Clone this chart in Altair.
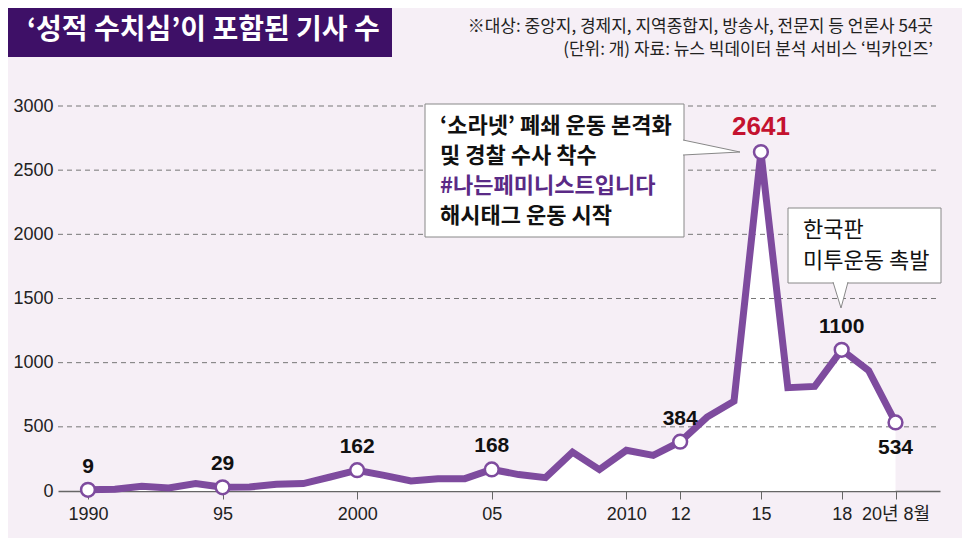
import json
import altair as alt
import pandas as pd

# ---------------- data ----------------
years = list(range(1990, 2021))
counts = [9, 13, 37, 23, 58, 29, 31, 52, 58, 109,
          162, 122, 78, 96, 96, 168, 128, 104, 303, 167,
          317, 278, 384, 576, 700, 2641, 805, 815, 1100, 939, 534]
highlight_years = [1990, 1995, 2000, 2005, 2012, 2015, 2018, 2020]
peak_year = 2015
below_year = 2020

x_tick_values = [1990, 1995, 2000, 2005, 2010, 2012, 2015, 2018, 2020]
x_tick_labels = ["1990", "95", "2000", "05", "2010", "12", "15", "18", "20년 8월"]
y_tick_values = [0, 500, 1000, 1500, 2000, 2500, 3000]
y_grid_values = [500, 1000, 1500, 2000, 2500, 3000]

title_text = "‘성적 수치심’이 포함된 기사 수"
note_lines = ["※대상: 중앙지, 경제지, 지역종합지, 방송사, 전문지 등 언론사 54곳",
              "(단위: 개) 자료: 뉴스 빅데이터 분석 서비스 ‘빅카인즈’"]
callout1_lines = ["‘소라넷’ 폐쇄 운동 본격화", "및 경찰 수사 착수",
                  "#나는페미니스트입니다", "해시태그 운동 시작"]
callout2_lines = ["한국판", "미투운동 촉발"]

# ---------------- styling ----------------
PURPLE = "#7e4b9e"
TITLE_BG = "#3e1067"
BG = "#f6eff6"
RED = "#c4122f"
HASH = "#5a2a86"
KFONT = "Noto Sans CJK KR"
NFONT = "Liberation Sans, Noto Sans CJK KR"
W, H = 882, 385

df = pd.DataFrame({"year": years, "count": counts})
df["label"] = df["count"].astype(str)
hl = df[df.year.isin(highlight_years)]
hl_above = hl[~hl.year.isin([peak_year, below_year])]
hl_peak = hl[hl.year == peak_year]
hl_below = hl[hl.year == below_year]
one = pd.DataFrame({"k": [0]})

label_expr = (json.dumps(x_tick_labels, ensure_ascii=False)
              + "[indexof(" + json.dumps(x_tick_values) + ", datum.value)]")

xscale = alt.Scale(domain=[1988.886, 2021.653], nice=False, zero=False)
yscale = alt.Scale(domain=[0, 3000], nice=False)
xaxis = alt.Axis(values=x_tick_values, labelExpr=label_expr, title=None, grid=False,
                 domainColor="#666666", domainWidth=1.5, tickColor="#666666",
                 tickSize=8, tickWidth=1, labelPadding=6, labelFontSize=18,
                 labelFont=NFONT, labelColor="#222222", labelFlush=False)
yaxis = alt.Axis(values=y_tick_values, format="d", title=None, grid=False, domain=False,
                 ticks=False, tickSize=0, labelPadding=5, labelFontSize=18,
                 labelFont=NFONT, labelColor="#222222")

X = alt.X("year:Q", scale=xscale, axis=xaxis)
Y = alt.Y("count:Q", scale=yscale, axis=yaxis)

area = alt.Chart(df).mark_area(color="white", opacity=1).encode(x=X, y=Y)

grid = alt.Chart(pd.DataFrame({"v": y_grid_values})).mark_rule(
    color="#777777", strokeDash=[5, 4], strokeWidth=1
).encode(y=alt.Y("v:Q", scale=yscale, axis=yaxis), x=alt.value(0), x2=alt.value(W))

line = alt.Chart(df).mark_line(color=PURPLE, strokeWidth=7).encode(x=X, y=Y)

points = alt.Chart(hl).mark_point(
    shape="circle", filled=True, fill="white", stroke=PURPLE,
    strokeWidth=2.5, size=190, opacity=1
).encode(x=X, y=Y)

lab_above = alt.Chart(hl_above).mark_text(
    font=NFONT, fontSize=21, fontWeight="bold", color="#111111", dy=-23, baseline="middle"
).encode(x=X, y=Y, text="label:N")
lab_peak = alt.Chart(hl_peak).mark_text(
    font=NFONT, fontSize=26, fontWeight="bold", color=RED, dy=-25, baseline="middle"
).encode(x=X, y=Y, text="label:N")
lab_below = alt.Chart(hl_below).mark_text(
    font=NFONT, fontSize=21, fontWeight="bold", color="#111111", dy=26, baseline="middle"
).encode(x=X, y=Y, text="label:N")

layers = [area, grid, line, points, lab_above, lab_peak, lab_below]

# title box
layers.append(alt.Chart(one).mark_rect(fill=TITLE_BG).encode(
    x=alt.value(-50), x2=alt.value(334), y=alt.value(-98), y2=alt.value(-49)))
layers.append(alt.Chart(one).mark_text(
    text=title_text, align="left", baseline="middle", font=KFONT, fontSize=28,
    fontWeight="bold", color="white").encode(x=alt.value(-31), y=alt.value(-75)))

# notes
for i, t in enumerate(note_lines):
    layers.append(alt.Chart(one).mark_text(
        text=t, align="right", baseline="middle", font=KFONT, fontSize=17,
        color="#222222").encode(x=alt.value(875), y=alt.value(-79 + 23 * i)))

# callout 1
layers.append(alt.Chart(one).mark_rect(fill="white", stroke="#888888", strokeWidth=1).encode(
    x=alt.value(367), x2=alt.value(626), y=alt.value(-2), y2=alt.value(131)))
layers.append(alt.Chart(one).mark_point(
    shape="M-1,-6L56,6L-1,9", size=4, filled=True, fill="white", stroke="#888888",
    strokeWidth=1, opacity=1).encode(x=alt.value(626), y=alt.value(40)))
for i, t in enumerate(callout1_lines):
    layers.append(alt.Chart(one).mark_text(
        text=t, align="left", baseline="middle", font=KFONT, fontSize=22,
        fontWeight="bold", color=HASH if i == 2 else "#111111"
    ).encode(x=alt.value(382), y=alt.value(20 + 30 * i)))

# callout 2
layers.append(alt.Chart(one).mark_rect(fill="white", stroke="#888888", strokeWidth=1).encode(
    x=alt.value(730), x2=alt.value(883), y=alt.value(102), y2=alt.value(177)))
layers.append(alt.Chart(one).mark_point(
    shape="M-8,-1L0,25L7,-1", size=4, filled=True, fill="white", stroke="#888888",
    strokeWidth=1, opacity=1).encode(x=alt.value(783), y=alt.value(177)))
for i, t in enumerate(callout2_lines):
    layers.append(alt.Chart(one).mark_text(
        text=t, align="left", baseline="middle", font=KFONT, fontSize=22,
        color="#111111").encode(x=alt.value(745), y=alt.value(124 + 31 * i)))

chart = alt.layer(*layers).properties(
    width=W, height=H,
    padding={"left": 50, "top": 98, "right": 22, "bottom": 47},
    autosize=alt.AutoSizeParams(type="none"),
).configure(background=BG).configure_view(stroke=None)

chart.save("out.html", embed_options={"renderer": "svg", "actions": False})
